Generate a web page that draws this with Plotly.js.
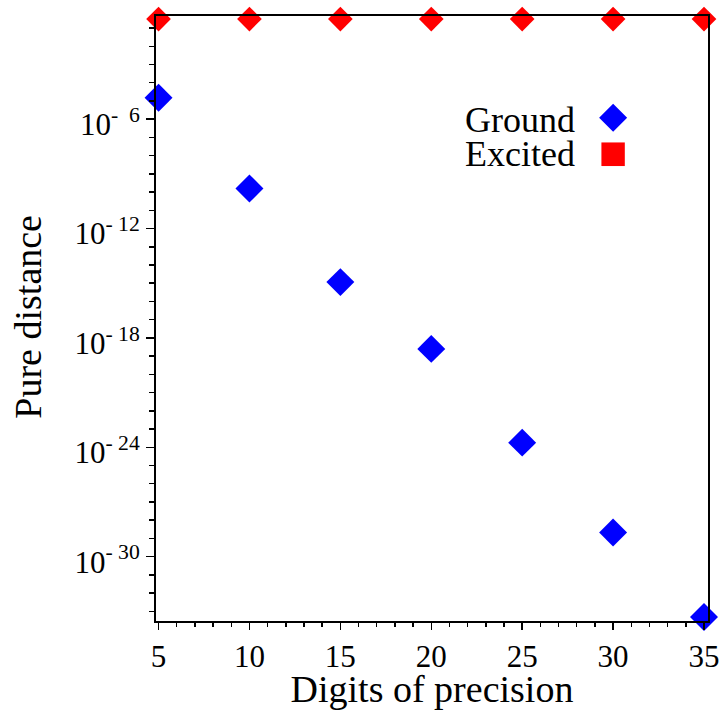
<!DOCTYPE html>
<html>
<head>
<meta charset="utf-8">
<script src="https://cdn.plot.ly/plotly-3.0.1.min.js"></script>
<style>html,body{margin:0;padding:0;background:#fff;}#chart{width:722px;height:710px;}</style>
</head>
<body>
<div id="chart"></div>
<script>
// Data
const digits = [5, 10, 15, 20, 25, 30, 35];
const groundDistance = [1.48e-5, 1.58e-10, 1.15e-15, 2.5e-19, 1.8e-24, 2.1e-29, 4.9e-34];
const excitedDistance = [0.31, 0.31, 0.31, 0.31, 0.31, 0.31, 0.31];
const yTickVals = [1e-6, 1e-12, 1e-18, 1e-24, 1e-30];
const yTickText = ['10<sup>-\u00a0\u00a06</sup>', '10<sup>-\u00a012</sup>', '10<sup>-\u00a018</sup>', '10<sup>-\u00a024</sup>', '10<sup>-\u00a030</sup>'];
const seriesNames = ['Ground', 'Excited'];
const xTitle = 'Digits of precision';
const yTitle = 'Pure distance';

const FONT = 'Liberation Serif, Times New Roman, serif';

const traces = [
  {
    x: digits, y: groundDistance, name: seriesNames[0], type: 'scatter', mode: 'markers',
    marker: {symbol: 'diamond', size: 21.5, color: '#0000ff', line: {width: 0}},
    cliponaxis: false, showlegend: false
  },
  {
    x: digits, y: excitedDistance, name: seriesNames[1], type: 'scatter', mode: 'markers',
    marker: {symbol: 'diamond', size: 19, color: '#ff0000', line: {width: 0}},
    cliponaxis: false, showlegend: false
  }
];

const layout = {
  width: 722, height: 710,
  margin: {l: 156, r: 14, t: 16, b: 89, pad: 0},
  paper_bgcolor: '#fff', plot_bgcolor: '#fff',
  font: {family: FONT, color: '#000'},
  showlegend: false,
  xaxis: {
    range: [4.86, 35.22],
    tickmode: 'linear', tick0: 5, dtick: 5,
    ticks: 'outside', ticklen: 7, tickwidth: 1.5, tickcolor: '#000',
    showline: true, linewidth: 2, linecolor: '#000', mirror: true,
    showgrid: false, zeroline: false,
    tickfont: {family: FONT, size: 31, color: '#000'},
    minor: {tickmode: 'linear', tick0: 0, dtick: 1, ticks: 'outside', ticklen: 4, tickwidth: 1.5, tickcolor: '#000', showgrid: false},
    title: {text: xTitle, font: {family: FONT, size: 38, color: '#000'}, standoff: 5}
  },
  yaxis: {
    type: 'log',
    range: [-33.53, -0.34],
    tickmode: 'array', tickvals: yTickVals, ticktext: yTickText,
    ticks: 'outside', ticklen: 8, tickwidth: 1.5, tickcolor: '#000',
    showline: true, linewidth: 2, linecolor: '#000', mirror: true,
    showgrid: false, zeroline: false,
    ticklabelshift: 5,
    tickfont: {family: FONT, size: 31, color: '#000'},
    minor: {tickmode: 'linear', tick0: 0, dtick: 1, ticks: 'outside', ticklen: 5, tickwidth: 1.5, tickcolor: '#000', showgrid: false}
  },
  annotations: [
    {xref: 'paper', yref: 'paper', x: -0.2319, y: 0.503, xanchor: 'center', yanchor: 'middle', textangle: -90,
     text: yTitle, showarrow: false, font: {family: FONT, size: 38, color: '#000'}},
    {xref: 'paper', yref: 'paper', x: 0.7624, y: 0.828, xanchor: 'right', yanchor: 'middle',
     text: seriesNames[0], showarrow: false, font: {family: FONT, size: 36, color: '#000'}},
    {xref: 'paper', yref: 'paper', x: 0.7624, y: 0.7717, xanchor: 'right', yanchor: 'middle',
     text: seriesNames[1], showarrow: false, font: {family: FONT, size: 36, color: '#000'}}
  ],
  shapes: [
    {type: 'path', xref: 'paper', yref: 'paper', xsizemode: 'pixel', ysizemode: 'pixel',
     xanchor: 0.8281, yanchor: 0.8318, path: 'M -14 0 L 0 14 L 14 0 L 0 -14 Z',
     fillcolor: '#0000ff', line: {width: 0}},
    {type: 'rect', xref: 'paper', yref: 'paper', xsizemode: 'pixel', ysizemode: 'pixel',
     xanchor: 0.8281, yanchor: 0.7715, x0: -11.7, x1: 11.7, y0: -11.8, y1: 11.8,
     fillcolor: '#ff0000', line: {width: 0}}
  ]
};

Plotly.newPlot('chart', traces, layout, {displayModeBar: false, staticPlot: true});
</script>
</body>
</html>
